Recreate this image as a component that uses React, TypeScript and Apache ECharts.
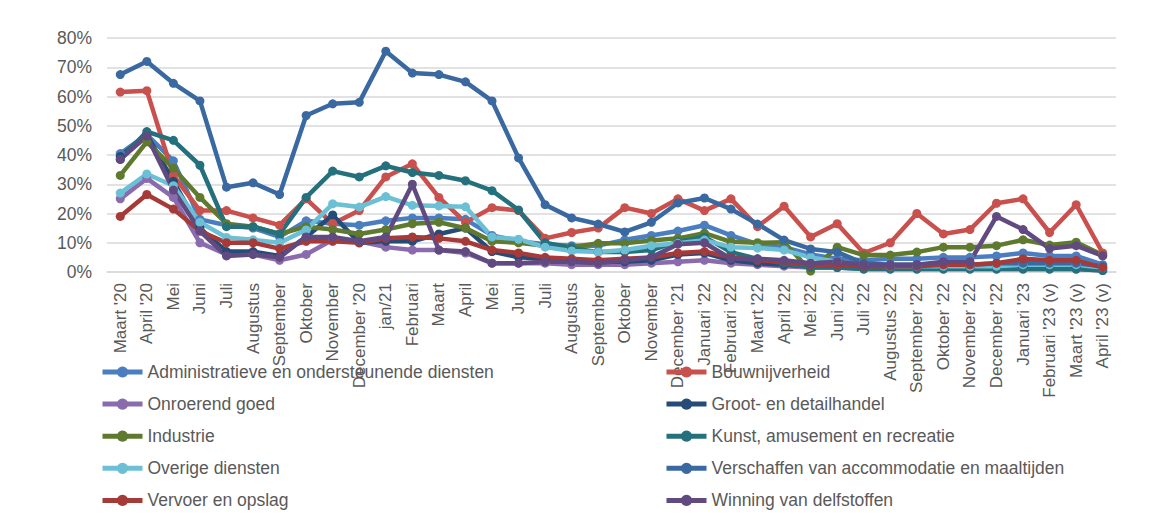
import React, { useEffect, useRef } from "react";
import * as echarts from "echarts";

const categories = ["Maart '20", "April '20", "Mei", "Juni", "Juli", "Augustus", "September", "Oktober", "November", "December '20", "jan/21", "Februari", "Maart", "April", "Mei", "Juni", "Juli", "Augustus", "September", "Oktober", "November", "December '21", "Januari '22", "Februari '22", "Maart '22", "April '22", "Mei '22", "Juni '22", "Juli '22", "Augustus '22", "September '22", "Oktober '22", "November '22", "December '22", "Januari '23", "Februari '23 (v)", "Maart '23 (v)", "April '23 (v)"];

const yTicks = [0, 10, 20, 30, 40, 50, 60, 70, 80];

const administratieve = [40.5, 47, 38, 18, 16, 15, 12, 17.5, 16.5, 16, 17.5, 18.5, 18.5, 18, 12.5, 10.5, 9.5, 9, 9, 11, 12.5, 14, 16, 12.5, 9.5, 8.5, 6, 4.5, 4, 4.5, 4.5, 5, 5, 5.5, 6.5, 5.5, 5.5, 2.5];
const bouwnijverheid = [61.5, 62, 33, 21, 21, 18.5, 16, 25, 16.5, 21, 32.5, 37, 25.5, 17, 22, 21, 11.5, 13.5, 15, 22, 20, 25, 21, 25, 15.5, 22.5, 12, 16.5, 6.5, 10, 20, 13, 14.5, 23.5, 25, 13.5, 23, 6.5];
const onroerendGoed = [25, 32, 25.5, 10, 6, 6, 4, 6, 11, 10.5, 8.5, 7.5, 7.5, 6.5, 3, 3, 3, 2.5, 2.5, 2.5, 3, 3.5, 4, 3, 2.5, 2, 1.5, 1.5, 1, 1, 1, 1, 1, 1, 1, 1, 1, 0.5];
const grootDetailhandel = [39.5, 47, 31, 15, 7, 7, 5.5, 12, 19.5, 10, 10.5, 10.5, 13, 15, 7, 5, 4.5, 4, 3.5, 3.5, 4, 6, 6.5, 4, 3, 2.5, 2, 2, 1.5, 1.5, 1.5, 1.5, 1.5, 1.5, 1.5, 1.5, 1.5, 1];
const industrie = [33, 44.5, 35.5, 25.5, 16.5, 15.5, 13, 15.5, 14.5, 13, 14.5, 16.5, 17, 15, 10.5, 10, 9, 8.5, 9.8, 9.8, 10.8, 11.5, 13.3, 10.3, 10, 10.2, 0.3, 8.5, 5.8, 5.8, 6.8, 8.5, 8.5, 9, 11, 9.2, 10.2, 5.8];
const kunst = [38.5, 48, 45, 36.5, 15.5, 15.5, 13, 25.5, 34.5, 32.5, 36.3, 34, 33, 31.2, 27.8, 21.2, 10, 8.2, 6.8, 6.8, 7.5, 10.3, 12, 6.8, 4.5, 3, 1.5, 1.5, 1, 1, 1, 1, 1, 1, 1, 1, 1, 0.5];
const overigeDiensten = [27, 33.5, 29.5, 17, 11.8, 11, 10, 14.4, 23.3, 22.2, 25.8, 22.8, 22.6, 22.3, 12, 11.2, 8.5, 7.2, 6.8, 7.5, 9, 9.8, 10.9, 8.5, 8.2, 7.5, 5, 3.5, 2.5, 2, 2, 2, 2, 2, 2.5, 2.5, 2.5, 1.5];
const verschaffen = [67.5, 72, 64.5, 58.5, 29, 30.5, 26.5, 53.5, 57.5, 58, 75.5, 68, 67.5, 65, 58.5, 39, 23, 18.5, 16.4, 13.7, 17, 23.6, 25.3, 21.5, 16.4, 10.9, 7.9, 6.8, 3, 2.5, 2.5, 2.5, 2.5, 3, 3, 3, 3, 2];
const vervoer = [19, 26.5, 21.5, 14, 10, 10, 8, 10.5, 10.5, 10, 11.5, 12, 11.5, 10.5, 7.5, 6.5, 5, 4.5, 4, 4.5, 5, 6.5, 7, 5, 4, 3.5, 2.5, 2.5, 2, 2, 2, 2.5, 2.5, 3, 4.5, 4, 4, 1.5];
const winning = [38.5, 46.5, 28, 14, 5.5, 6, 5, 12, 12, 10.5, 12, 30, 7.5, 7, 3, 3, 3.5, 3.5, 3, 4, 5, 9.5, 10, 4.5, 4.5, 4, 3, 3.5, 2.5, 2.5, 2.5, 3.5, 3.5, 19, 14.5, 8, 9, 5.5];

const seriesNames = [
  "Administratieve en ondersteunende diensten",
  "Bouwnijverheid",
  "Onroerend goed",
  "Groot- en detailhandel",
  "Industrie",
  "Kunst, amusement en recreatie",
  "Overige diensten",
  "Verschaffen van accommodatie en maaltijden",
  "Vervoer en opslag",
  "Winning van delfstoffen",
];
const seriesData = [administratieve, bouwnijverheid, onroerendGoed, grootDetailhandel, industrie, kunst, overigeDiensten, verschaffen, vervoer, winning];
const seriesColors = ["#4a7ec0", "#c9504d", "#8a6bae", "#274b77", "#5f7a2e", "#24707d", "#6bc0d5", "#3a69a1", "#a63a39", "#604a80"];

const leftLegend = [seriesNames[0], seriesNames[2], seriesNames[4], seriesNames[6], seriesNames[8]];
const rightLegend = [seriesNames[1], seriesNames[3], seriesNames[5], seriesNames[7], seriesNames[9]];

const FONT = "'Liberation Sans', Arial, sans-serif";

export default function App() {
  const ref = useRef<HTMLDivElement>(null);
  useEffect(() => {
    if (!ref.current) return;
    const chart = echarts.init(ref.current, undefined, { renderer: "svg" });
    const legendCommon = {
      orient: "vertical" as const,
      top: 363,
      height: 154,
      padding: 0,
      itemWidth: 40,
      itemHeight: 14,
      itemGap: 14.1,
      lineStyle: { width: 5 },
      textStyle: { fontSize: 17.5, color: "#595959", fontFamily: FONT },
      selectedMode: false,
    };
    chart.setOption({
      animation: false,
      backgroundColor: "#ffffff",
      textStyle: { fontFamily: FONT },
      grid: { left: 107, right: 33, top: 38, bottom: 245, containLabel: false },
      legend: [
        { ...legendCommon, left: 100, data: leftLegend },
        { ...legendCommon, left: 664, data: rightLegend },
      ],
      xAxis: {
        type: "category",
        data: categories,
        boundaryGap: true,
        axisLine: { show: true, lineStyle: { color: "#d9d9d9", width: 1.5 } },
        axisTick: { show: false },
        axisLabel: { interval: 0, rotate: 90, fontSize: 17, color: "#595959", margin: 11, fontFamily: FONT },
      },
      yAxis: {
        type: "value",
        min: yTicks[0],
        max: yTicks[yTicks.length - 1],
        interval: 10,
        axisLine: { show: false },
        axisTick: { show: false },
        splitLine: { lineStyle: { color: "#d9d9d9", width: 1.5 } },
        axisLabel: { formatter: "{value}%", fontSize: 17.5, color: "#595959", margin: 15, fontFamily: FONT },
      },
      series: seriesNames.map((name, i) => ({
        name,
        type: "line",
        data: seriesData[i],
        symbol: "circle",
        symbolSize: 9,
        showSymbol: true,
        lineStyle: { width: 4.5, color: seriesColors[i] },
        itemStyle: { color: seriesColors[i] },
        emphasis: { disabled: true },
      })),
    });
    return () => chart.dispose();
  }, []);
  return (
    <div
      ref={ref}
      style={{ position: "fixed", left: 0, top: 0, width: 1149, height: 517, background: "#fff" }}
    />
  );
}
